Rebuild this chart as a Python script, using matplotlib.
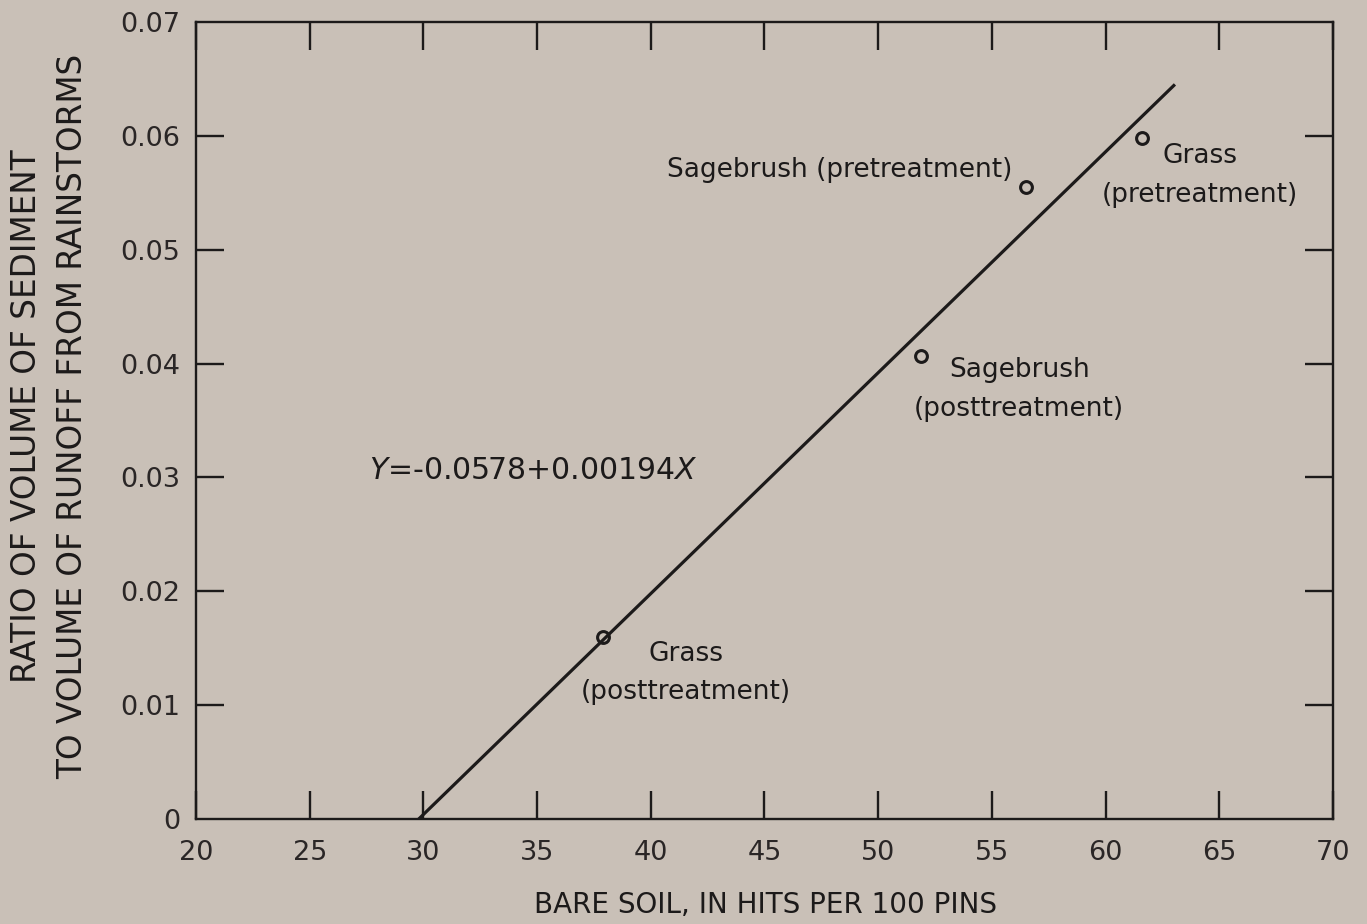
import matplotlib
matplotlib.use("Agg")
import matplotlib.pyplot as plt
import numpy as np

# Data
labels = ["Grass\n(posttreatment)", "Sagebrush\n(posttreatment)",
          "Sagebrush (pretreatment)", "Grass\n(pretreatment)"]
bare_soil = [37.9, 51.9, 56.5, 61.6]
ratio = [0.0160, 0.0407, 0.0555, 0.0598]

# Regression line Y = -0.0578 + 0.00194X
intercept = -0.0578
slope = 0.00194
line_x = np.array([29.8, 63.0])

x_ticks = [20, 25, 30, 35, 40, 45, 50, 55, 60, 65, 70]
y_ticks = [0, 0.01, 0.02, 0.03, 0.04, 0.05, 0.06, 0.07]
y_ticklabels = ["0", "0.01", "0.02", "0.03", "0.04", "0.05", "0.06", "0.07"]

bg = "#c9c0b7"
ink = "#1c1a1a"

plt.rcParams['font.family'] = ['DejaVu Sans']
plt.rcParams['axes.linewidth'] = 1.7

fig = plt.figure(figsize=(13.67, 9.24), dpi=100, facecolor=bg)
ax = fig.add_axes([0.1434, 0.1136, 0.8317, 0.8626], facecolor=bg)

ax.plot(line_x, intercept + slope * line_x, color=ink, linewidth=2.3)
ax.plot(bare_soil, ratio, linestyle='none', marker='o', markersize=8.5,
        markerfacecolor='none', markeredgecolor=ink, markeredgewidth=2.2)

ax.set_xlim(20, 70)
ax.set_ylim(0, 0.07)

for s in ax.spines.values():
    s.set_color(ink)

# ticks: inward, on all sides, skipping the ends
ax.set_xticks(x_ticks)
ax.set_yticks(y_ticks)
ax.set_yticklabels(y_ticklabels)
ax.tick_params(axis='both', direction='in', length=20, width=1.7, color=ink,
               top=True, right=True, labelsize=19.5, labelcolor='#2a2626')
ax.tick_params(axis='x', pad=15)
ax.tick_params(axis='y', pad=11.5)
for t in ax.xaxis.get_major_ticks():
    if t.get_loc() in (20, 70):
        t.tick1line.set_visible(False)
        t.tick2line.set_visible(False)
for t in ax.yaxis.get_major_ticks():
    if t.get_loc() in (0, 0.07):
        t.tick1line.set_visible(False)
        t.tick2line.set_visible(False)

ax.set_xlabel("BARE SOIL, IN HITS PER 100 PINS", fontsize=20, color=ink, va='center')
ax.xaxis.set_label_coords(0.501, -0.108)
ax.set_ylabel("RATIO OF VOLUME OF SEDIMENT\nTO VOLUME OF RUNOFF FROM RAINSTORMS",
              fontsize=23.5, color=ink, linespacing=1.5, va='center')
ax.yaxis.set_label_coords(-0.1290, 0.5056)

# point labels
ax.text(41.55, 0.0128, labels[0], ha='center', va='center', fontsize=19,
        color=ink, linespacing=1.6)
ax.text(56.2, 0.0377, labels[1], ha='center', va='center', fontsize=19,
        color=ink, linespacing=1.65)
ax.text(55.9, 0.0570, labels[2], ha='right', va='center', fontsize=19, color=ink)
ax.text(64.15, 0.0565, labels[3], ha='center', va='center', fontsize=19,
        color=ink, linespacing=1.65)

ax.text(27.6, 0.0306, r"$\it{Y}$=-0.0578+0.00194$\it{X}$", ha='left', va='center',
        fontsize=21.5, color=ink)

fig.savefig("out.png", dpi=100, facecolor=bg)
